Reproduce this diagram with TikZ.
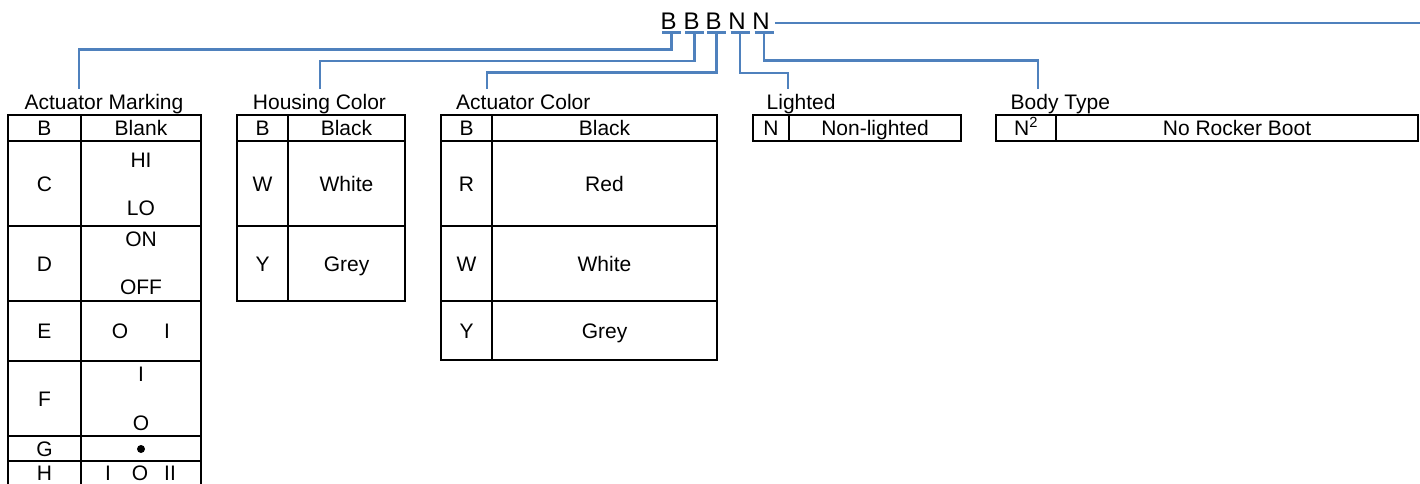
\documentclass[tikz,border=0pt]{standalone}
\usepackage{fontspec}
\setmainfont{Liberation Sans}
\begin{document}
\begin{tikzpicture}[x=1pt, y=-1pt,
        wire/.style={draw=codeblue, line width=2.8pt},
        grid/.style={draw=black, line width=2pt},
        cell/.style={inner sep=0pt, text height=15pt, text depth=0pt, font=\fontsize{21}{25}\selectfont},
        code/.style={inner sep=0pt, text height=17pt, text depth=0pt, font=\fontsize{24}{28}\selectfont}]
            % Define colors
            \definecolor{codeblue}{RGB}{79, 129, 189}

            \useasboundingbox (0, 0) rectangle (1420, 483);

            % Add code letters
            \node[code] (codeB1) at (668.5, 20.5) {B};
            \node[code] (codeB2) at (691.5, 20.5) {B};
            \node[code] (codeB3) at (713.5, 20.5) {B};
            \node[code] (codeN1) at (737, 20.5) {N};
            \node[code] (codeN2) at (761, 20.5) {N};

            % Taps under the letters
            \foreach \n in {B1, B2, B3, N1, N2} {
                \coordinate (tap\n) at ([shift={(3pt, -3.3pt)}]code\n.south);
                \draw[wire] ([xshift=-9.5pt]tap\n) -- ([xshift=9.5pt]tap\n);
            }

            % Add captions
            \node[cell] (capMark) at (104, 102) {Actuator Marking};
            \node[cell] (capHousing) at (319.5, 102) {Housing Color};
            \node[cell, anchor=west] (capActColor) at (456, 102) {Actuator Color};
            \node[cell, anchor=west] (capLighted) at (766.5, 102) {Lighted};
            \node[cell, anchor=west] (capBody) at (1010.5, 102) {Body Type};

            % Ends of the leaders
            \coordinate (inMark) at (79, 89);
            \coordinate (inHousing) at (320, 89);
            \coordinate (inActColor) at (487, 89);
            \coordinate (inLighted) at (788, 89);
            \coordinate (inBody) at (1038, 89);
            \coordinate (tail) at (1421, 23);

            % Draw leaders
            \draw[wire] (tapB1) -- ++(0, 17) -| (inMark);
            \draw[wire] (tapB2) -- ++(0, 28.5) -| (inHousing);
            \draw[wire] (tapB3) -- ++(0, 40) -| (inActColor);
            \draw[wire] (tapN1) -- ++(0, 40.5) -| (inLighted);
            \draw[wire] (tapN2) -- ++(0, 28) -| (inBody);
            \draw[wire] ([shift={(5pt, -2.5pt)}]codeN2.east) -- (tail);

            % Draw Actuator Marking table
            \draw[grid] (8, 484) |- (201, 115) -- (201, 484);
            \draw[grid] (81, 115) -- (81, 484);
            \foreach \y in {141, 226, 301, 361, 436, 461}
                \draw[grid] (8, \y) -- (201, \y);
            \node[cell] (markB) at (44.5, 128) {B};
            \node[cell] (markBlank) at (141, 128) {Blank};
            \node[cell] (markC) at (44.5, 183.5) {C};
            \node[cell] (markHi) at (141, 159.5) {HI};
            \node[cell] (markLo) at (141, 208) {LO};
            \node[cell] (markD) at (44.5, 263.5) {D};
            \node[cell] (markOn) at (141, 239) {ON};
            \node[cell] (markOff) at (141, 286.5) {OFF};
            \node[cell] (markE) at (44.5, 331) {E};
            \node[cell] (markEO) at (120, 331) {O};
            \node[cell] (markEI) at (167, 331) {I};
            \node[cell] (markF) at (44.5, 398.5) {F};
            \node[cell] (markFI) at (141, 374) {I};
            \node[cell] (markFO) at (141, 423) {O};
            \node[cell] (markG) at (44.5, 448.5) {G};
            \node[circle, fill=black, inner sep=0pt, minimum size=8pt] (markDot) at (141, 449) {};
            \node[cell] (markH) at (44.5, 473) {H};
            \node[cell] (markHI) at (108, 473) {I};
            \node[cell] (markHO) at (140, 473) {O};
            \node[cell] (markHII) at (170, 473) {II};

            % Draw Housing Color table
            \draw[grid] (237, 115) rectangle (405, 301);
            \draw[grid] (288, 115) -- (288, 301);
            \foreach \y in {141, 226}
                \draw[grid] (237, \y) -- (405, \y);
            \node[cell] (houseB) at (262.5, 128) {B};
            \node[cell] (houseBlack) at (346.5, 128) {Black};
            \node[cell] (houseW) at (262.5, 183.5) {W};
            \node[cell] (houseWhite) at (346.5, 183.5) {White};
            \node[cell] (houseY) at (262.5, 263.5) {Y};
            \node[cell] (houseGrey) at (346.5, 263.5) {Grey};

            % Draw Actuator Color table
            \draw[grid] (441, 115) rectangle (717, 360);
            \draw[grid] (492, 115) -- (492, 360);
            \foreach \y in {141, 226, 301}
                \draw[grid] (441, \y) -- (717, \y);
            \node[cell] (colorB) at (466.5, 128) {B};
            \node[cell] (colorBlack) at (604.5, 128) {Black};
            \node[cell] (colorR) at (466.5, 183.5) {R};
            \node[cell] (colorRed) at (604.5, 183.5) {Red};
            \node[cell] (colorW) at (466.5, 263.5) {W};
            \node[cell] (colorWhite) at (604.5, 263.5) {White};
            \node[cell] (colorY) at (466.5, 330.5) {Y};
            \node[cell] (colorGrey) at (604.5, 330.5) {Grey};

            % Draw Lighted table
            \draw[grid] (753, 115) rectangle (961, 141);
            \draw[grid] (789, 115) -- (789, 141);
            \node[cell] (lightN) at (771, 128) {N};
            \node[cell] (lightNon) at (875, 128) {Non-lighted};

            % Draw Body Type table
            \draw[grid] (996, 115) rectangle (1418, 141);
            \draw[grid] (1056, 115) -- (1056, 141);
            \node[cell] (bodyN) at (1026, 128) {N\textsuperscript{2}};
            \node[cell] (bodyNone) at (1237, 128) {No Rocker Boot};
        \end{tikzpicture}
\end{document}
